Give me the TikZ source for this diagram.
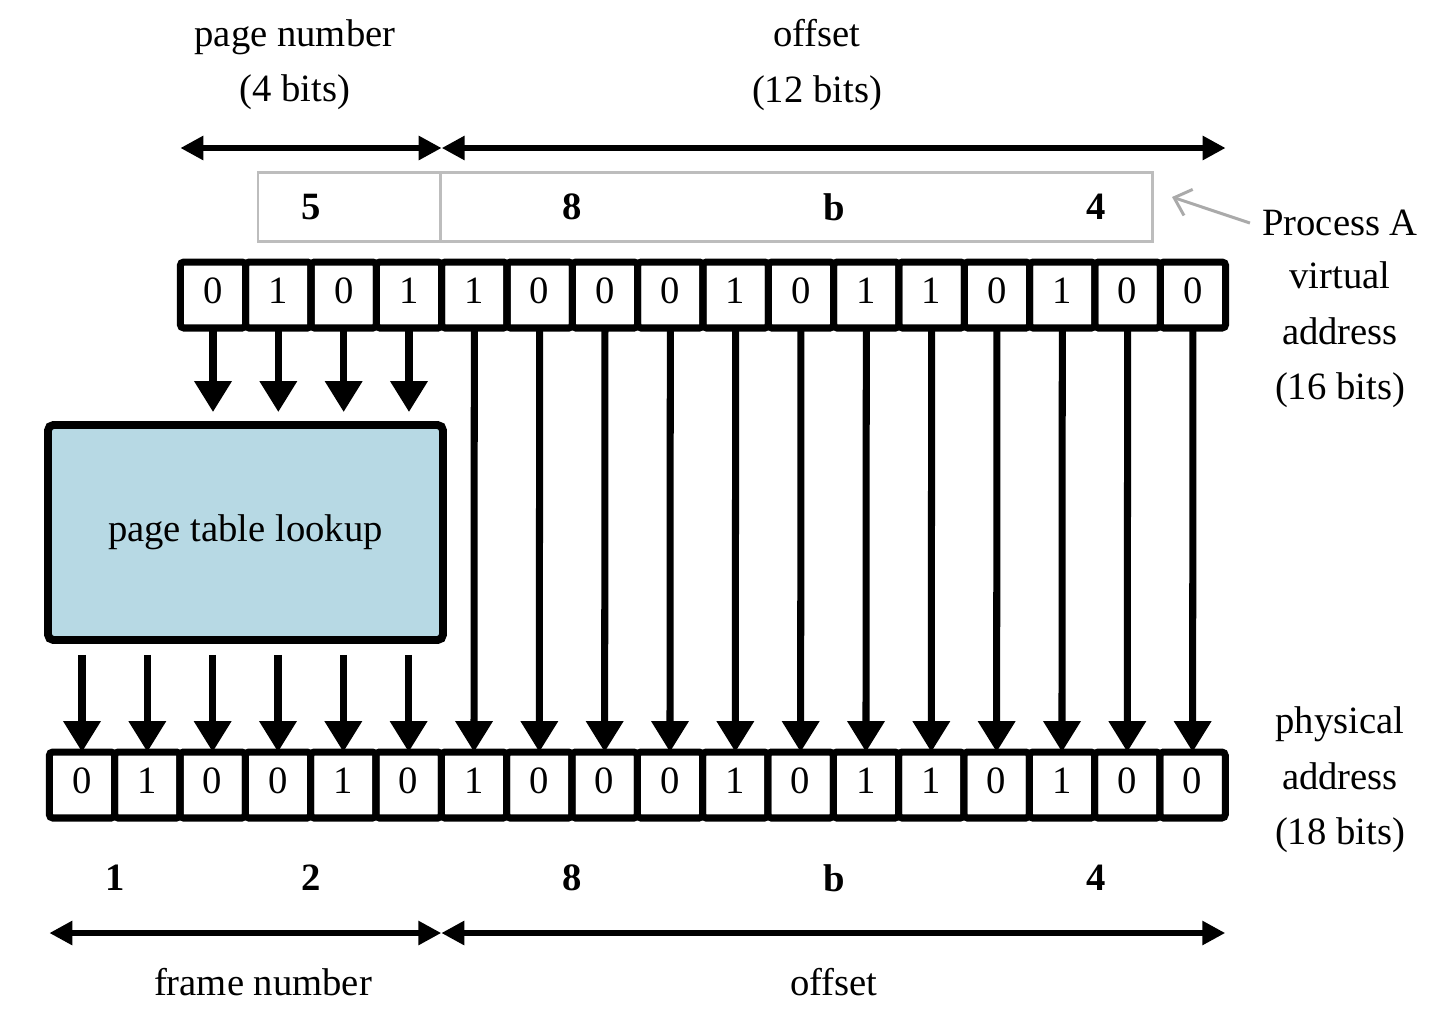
\documentclass[tikz,border=0pt]{standalone}
\usepackage{fontspec}
\setmainfont{Liberation Serif}
\usetikzlibrary{arrows.meta}

\definecolor{tableblue}{HTML}{B7D9E4}
\definecolor{hexgray}{HTML}{BDBDBD}
\definecolor{pointergray}{HTML}{AAAAAA}

\begin{document}
\begin{tikzpicture}[x=0.02cm,y=-0.02cm,
        every node/.style={font=\fontsize{22}{31.5}\selectfont},
        bit/.style={draw,line width=4pt,rounded corners=2pt,outer sep=0pt,inner sep=0pt,
            text depth=0.18cm,minimum width=1.3066cm,minimum height=1.32cm},
        hexdigit/.style={font=\fontsize{22}{31.5}\selectfont\bfseries},
        bitarrow/.style={line width=4pt,-{Triangle[width=0.72cm,length=0.62cm]}},
        dimarrow/.style={line width=3.4pt,{Triangle[width=0.46cm,length=0.46cm]}-{Triangle[width=0.46cm,length=0.46cm]}},
        hexline/.style={draw=hexgray,line width=1.7pt},
        pointer/.style={draw=pointergray,line width=1.7pt,-{Straight Barb[length=0.3cm,width=0.55cm]}},
        labelbox/.style={align=center}]
    \useasboundingbox (0,0) rectangle (1446,1012);

    \node[labelbox] (pnlabel) at (295,65) {page number\\(4 bits)};
    \node[labelbox] (offlabel) at (817,65) {offset\\(12 bits)};

    \draw[hexline] (258,172) rectangle (1152,241);
    \draw[hexline] (440,172) -- (440,241);
    \node[hexdigit] (hv0) at (311,207) {5};
    \node[hexdigit] (hv1) at (572,207) {8};
    \node[hexdigit] (hv2) at (834,207) {b};
    \node[hexdigit] (hv3) at (1096,207) {4};

    \foreach \b [count=\i from 0] in {0,1,0,1,1,0,0,0,1,0,1,1,0,1,0,0}
        \node[bit] (v\i) at ({213+65.33*\i},295) {\b};
    \foreach \b [count=\i from 0] in {0,1,0,0,1,0,1,0,0,0,1,0,1,1,0,1,0,0}
        \node[bit] (p\i) at ({82+65.33*\i},785) {\b};

    \node[draw,line width=4.5pt,rounded corners=3pt,fill=tableblue,outer sep=0pt,
        minimum width=7.9cm,minimum height=4.3cm] (lookup) at (245.5,532.5) {page table lookup};

    \coordinate (toprule) at (0,148);
    \coordinate (botrule) at (0,933);
    \draw[dimarrow] (v0.west |- toprule) -- (v3.east |- toprule);
    \draw[dimarrow] (v4.west |- toprule) -- (v15.east |- toprule);
    \draw[dimarrow] (p0.west |- botrule) -- (p5.east |- botrule);
    \draw[dimarrow] (p6.west |- botrule) -- (p17.east |- botrule);

    \foreach \i in {0,...,3}
        \draw[bitarrow,shorten >=0.26cm] (v\i.south) -- (v\i.south |- lookup.north);
    \foreach \i in {4,...,15} {
        \pgfmathtruncatemacro{\j}{\i+2}
        \draw[bitarrow] (v\i.south) -- (p\j.north);
    }
    \foreach \j in {0,...,5}
        \draw[bitarrow,shorten <=0.3cm] (p\j.north |- lookup.south) -- (p\j.north);

    \node[hexdigit] (hp0) at (115,878) {1};
    \node[hexdigit] (hp1) at (311,878) {2};
    \node[hexdigit] (hp2) at (572,878) {8};
    \node[hexdigit] (hp3) at (834,878) {b};
    \node[hexdigit] (hp4) at (1096,878) {4};

    \node (fnlabel) at (263,982) {frame number};
    \node (poffset) at (834,982) {offset};

    \node (procA) at (1340,223) {Process A};
    \node[labelbox] (vaddr) at (1340,335) {virtual\\address\\(16 bits)};
    \node[labelbox] (paddr) at (1340,780) {physical\\address\\(18 bits)};
    \coordinate (ptr) at (1172,197);
    \draw[pointer] ([xshift=-0.12cm]procA.west) -- (ptr);
\end{tikzpicture}
\end{document}
